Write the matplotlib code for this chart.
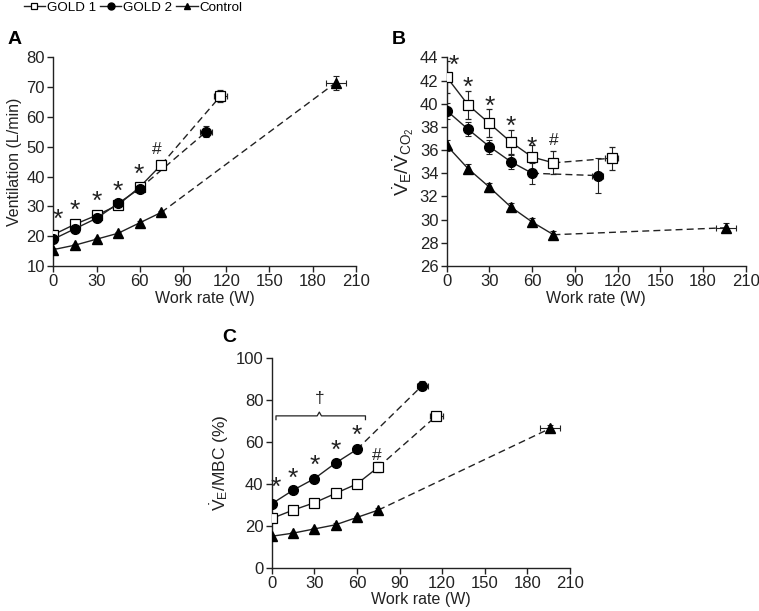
import matplotlib
matplotlib.use("Agg")
import matplotlib.pyplot as plt
from matplotlib.lines import Line2D

plt.rcParams['font.family'] = ['Liberation Sans', 'DejaVu Sans']
plt.rcParams['mathtext.fontset'] = 'custom'
plt.rcParams['mathtext.rm'] = 'Liberation Sans'
plt.rcParams['mathtext.it'] = 'Liberation Sans'

# ---------------- data ----------------
stages = [0, 15, 30, 45, 60, 75]
stages_g2 = [0, 15, 30, 45, 60]

# peak values (work rate, x error)
peak_w = {'GOLD 1': 116, 'GOLD 2': 106, 'Control': 196}
peak_werr = {'GOLD 1': 4.5, 'GOLD 2': 4, 'Control': 7}

# Panel A: Ventilation
a_g1 = [20.5, 24, 27, 30.5, 36.5, 44]
a_g1_err = [0.6, 0.6, 0.6, 0.7, 0.8, 1.3]
a_g1_peak, a_g1_peak_err = 67, 2
a_g2 = [19, 22.5, 26, 31, 36]
a_g2_err = [0.6, 0.6, 0.6, 0.6, 0.8]
a_g2_peak, a_g2_peak_err = 55, 1.8
a_ct = [15.5, 17, 19, 21, 24.5, 28]
a_ct_err = [0.6, 0.5, 0.5, 0.5, 0.5, 0.6]
a_ct_peak, a_ct_peak_err = 71.5, 2.3

# Panel B: VE/VCO2
b_g1 = [42.3, 39.9, 38.3, 36.7, 35.4, 34.9]
b_g1_err = [1.4, 1.2, 1.2, 1.0, 1.0, 1.0]
b_g1_peak, b_g1_peak_err = 35.3, 1.0
b_g2 = [39.4, 37.8, 36.3, 35.0, 34.0]
b_g2_err = [0.7, 0.6, 0.6, 0.6, 0.9]
b_g2_peak, b_g2_peak_err = 33.8, 1.5
b_ct = [36.4, 34.4, 32.8, 31.1, 29.8, 28.7]
b_ct_err = [0.5, 0.4, 0.4, 0.3, 0.3, 0.3]
b_ct_peak, b_ct_peak_err = 29.3, 0.4

# Panel C: VE/MBC
c_g1 = [23.5, 27.5, 31, 35.5, 40, 48]
c_g1_err = [1.2, 1.2, 1.5, 1.5, 1.8, 2.5]
c_g1_peak, c_g1_peak_err = 72.5, 1.8
c_g2 = [30.5, 37, 42.5, 50, 56.5]
c_g2_err = [1.0, 1.0, 1.2, 1.5, 1.5]
c_g2_peak, c_g2_peak_err = 87, 2
c_ct = [15, 16.5, 18.5, 20.5, 24, 27.5]
c_ct_err = [0.6, 0.6, 0.6, 0.7, 0.8, 0.8]
c_ct_peak, c_ct_peak_err = 66.5, 1.5

# annotations: (x, y, text)
a_marks = [(3, 25.5, '*'), (15, 28.5, '*'), (30, 31.5, '*'), (45, 35, '*'), (59, 40.5, '*'), (72, 49, '#')]
b_marks = [(5, 43.3, '*'), (15, 41.4, '*'), (30, 39.7, '*'), (45, 38.0, '*'), (60, 36.2, '*'), (75, 36.8, '#')]
c_marks = [(3, 38, '*'), (15, 42.5, '*'), (30, 48.5, '*'), (45, 56, '*'), (60, 63, '*'), (74, 53.5, '#')]

# ---------------- figure ----------------
fig = plt.figure(figsize=(7.59, 6.11), dpi=100)
axA = fig.add_axes([0.0702, 0.5646, 0.3988, 0.3416])
axB = fig.add_axes([0.5885, 0.5646, 0.3940, 0.3416])
axC = fig.add_axes([0.358, 0.0709, 0.393, 0.3427])

FS = 12
LFS = 11.5
styles = {
    'GOLD 1': dict(marker='s', mfc='white', mec='black', ms=6.5, mew=0.9),
    'GOLD 2': dict(marker='o', mfc='black', mec='black', ms=7),
    'Control': dict(marker='^', mfc='black', mec='black', ms=6.5),
}


def draw_series(ax, xs, ys, errs, peak_x, peak_y, peak_yerr, peak_xerr, key):
    st = styles[key]
    ax.plot([xs[-1], peak_x], [ys[-1], peak_y], ls=(0, (5, 3)), color='#222222', lw=1.0, zorder=2)
    ax.errorbar(xs, ys, yerr=errs, color='#222222', lw=1.0, elinewidth=0.8, capsize=2.5,
                capthick=0.8, zorder=3, **st)
    ax.errorbar([peak_x], [peak_y], yerr=[peak_yerr], xerr=[peak_xerr], color='#222222', lw=0,
                elinewidth=0.8, capsize=2.5, capthick=0.8, zorder=3, **st)


def style_axis(ax, ylim, yticks, ylabel, ylabel_fs=LFS):
    ax.set_xlim(0, 210)
    ax.set_ylim(*ylim)
    ax.set_xticks(range(0, 211, 30))
    ax.set_yticks(yticks)
    ax.spines['top'].set_visible(False)
    ax.spines['right'].set_visible(False)
    for s in ('left', 'bottom'):
        ax.spines[s].set_linewidth(1.0)
        ax.spines[s].set_color('#222222')
    ax.tick_params(direction='out', length=4, width=1.0, labelsize=FS, colors='#222222', pad=2)
    ax.set_xlabel('Work rate (W)', fontsize=LFS, color='#222222', labelpad=1)
    ax.set_ylabel(ylabel, fontsize=ylabel_fs, color='#222222', labelpad=3)
    ax.margins(0)


# Panel A
draw_series(axA, stages, a_g1, a_g1_err, peak_w['GOLD 1'], a_g1_peak, a_g1_peak_err, peak_werr['GOLD 1'], 'GOLD 1')
draw_series(axA, stages_g2, a_g2, a_g2_err, peak_w['GOLD 2'], a_g2_peak, a_g2_peak_err, peak_werr['GOLD 2'], 'GOLD 2')
draw_series(axA, stages, a_ct, a_ct_err, peak_w['Control'], a_ct_peak, a_ct_peak_err, peak_werr['Control'], 'Control')
style_axis(axA, (10, 80), range(10, 81, 10), 'Ventilation (L/min)')

# Panel B
draw_series(axB, stages, b_g1, b_g1_err, peak_w['GOLD 1'], b_g1_peak, b_g1_peak_err, peak_werr['GOLD 1'], 'GOLD 1')
draw_series(axB, stages_g2, b_g2, b_g2_err, peak_w['GOLD 2'], b_g2_peak, b_g2_peak_err, peak_werr['GOLD 2'], 'GOLD 2')
draw_series(axB, stages, b_ct, b_ct_err, peak_w['Control'], b_ct_peak, b_ct_peak_err, peak_werr['Control'], 'Control')
style_axis(axB, (26, 44), range(26, 45, 2), r'$\dot{\mathrm{V}}_{\mathrm{E}}/\dot{\mathrm{V}}_{\mathrm{CO}_2}$', 14)

# Panel C
draw_series(axC, stages, c_g1, c_g1_err, peak_w['GOLD 1'], c_g1_peak, c_g1_peak_err, peak_werr['GOLD 1'], 'GOLD 1')
draw_series(axC, stages_g2, c_g2, c_g2_err, peak_w['GOLD 2'], c_g2_peak, c_g2_peak_err, peak_werr['GOLD 2'], 'GOLD 2')
draw_series(axC, stages, c_ct, c_ct_err, peak_w['Control'], c_ct_peak, c_ct_peak_err, peak_werr['Control'], 'Control')
style_axis(axC, (0, 100), range(0, 101, 20), r'$\dot{\mathrm{V}}_{\mathrm{E}}$/MBC (%)', 12.5)

for ax, marks in ((axA, a_marks), (axB, b_marks), (axC, c_marks)):
    for x, y, t in marks:
        if t == '*':
            ax.text(x, y, t, ha='center', va='center', fontsize=19, color='#222222', clip_on=False)
        else:
            ax.text(x, y, t, ha='center', va='center', fontsize=12.5, color='#222222', clip_on=False)

# brace and dagger in C
bx0, bx1, by = 3, 66, 72.5
tipx = 33.5
axC.plot([bx0, bx0, tipx - 1.5, tipx, tipx + 1.5, bx1, bx1],
         [by - 1.8, by, by, by + 1.8, by, by, by - 1.8], color='#222222', lw=0.9, clip_on=False)
axC.text(tipx, 81, '\u2020', ha='center', va='center', fontsize=12.5, color='#222222')

# panel letters
fig.text(8 / 759, 1 - 40 / 611, 'A', fontsize=14, fontweight='bold', va='center', ha='left')
fig.text(392 / 759, 1 - 40 / 611, 'B', fontsize=14, fontweight='bold', va='center', ha='left')
fig.text(222 / 759, 1 - 338 / 611, 'C', fontsize=14, fontweight='bold', va='center', ha='left')

# legend
handles = []
for key in ['GOLD 1', 'GOLD 2', 'Control']:
    st = dict(styles[key])
    st['ms'] = st['ms'] - 2
    handles.append(Line2D([], [], color='#222222', lw=1.0, **st))
fig.legend(handles, ['GOLD 1', 'GOLD 2', 'Control'], loc='upper left', bbox_to_anchor=(0.031, 0.997),
           ncol=3, frameon=False, fontsize=9.6, handlelength=1.6, handletextpad=0.15, columnspacing=0.3,
           borderaxespad=0.0, borderpad=0.0)

fig.savefig('out.png', dpi=100)
